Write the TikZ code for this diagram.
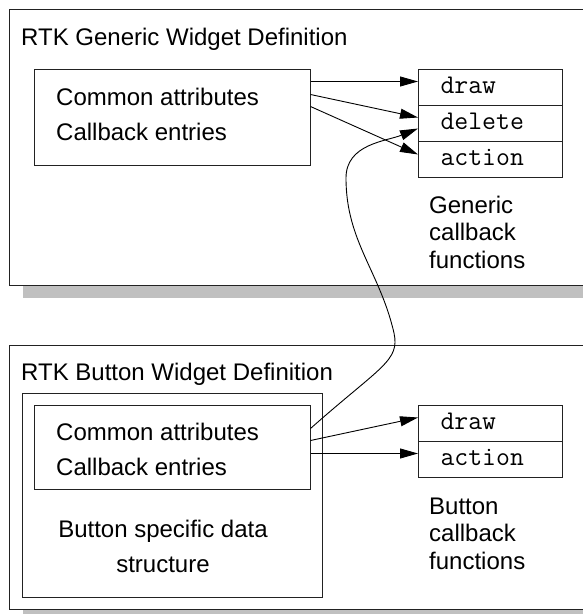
\documentclass[tikz,border=0pt]{standalone}
\usepackage{fontspec}
\setmainfont{Liberation Sans}
\usetikzlibrary{arrows.meta,calc,shadows}
\definecolor{shadowgray}{HTML}{C0C0C0}
\definecolor{ink}{HTML}{222222}
\begin{document}
\begin{tikzpicture}[x=1pt,y=-1pt,
  panel/.style={draw=ink, line width=1.1pt, fill=white, anchor=north west, inner sep=0pt,
    drop shadow={shadow xshift=13pt, shadow yshift=-12pt, fill=shadowgray, opacity=1}},
  box/.style={draw=ink, line width=1pt, anchor=north west, inner sep=0pt},
  cell/.style={draw=ink, line width=1pt, minimum width=144pt, minimum height=36pt,
    text width=100pt, inner xsep=22pt, inner ysep=0pt, align=left,
    text height=12pt, text depth=0pt, anchor=north west,
    font=\ttfamily\fontsize{27}{30}\selectfont},
  label/.style={anchor=base west, inner sep=0pt, font=\fontsize{24}{28}\selectfont},
  caption/.style={label, align=left, font=\fontsize{24}{27.5}\selectfont},
  link/.style={draw=black, line width=0.9pt, -{Triangle[length=18pt,width=10pt]}},
]
\useasboundingbox (0,0) rectangle (583,614);
\clip (0,0) rectangle (583,614);

% ---- generic widget definition ----
\node[panel, minimum width=600pt, minimum height=276pt] (gpanel) at (9,9) {};
\node[label] (gtitle) at (21,45) {RTK Generic Widget Definition};
\node[box, minimum width=276pt, minimum height=96pt] (gin) at (33.5,69) {};
\node[label] (gcommon) at (56,105) {Common attributes};
\node[label] (gentries) at (56,140) {Callback entries};
\node[cell] (gdraw) at (418,69) {draw};
\node[cell] (gdelete) at (418,105) {delete};
\node[cell] (gaction) at (418,141) {action};
% multi-line labels are placed by the baseline of their last line
\node[caption] (gfuncs) at (429,268) {Generic\\callback\\functions};

% ---- button widget definition ----
\node[panel, minimum width=600pt, minimum height=264pt] (bpanel) at (9,345) {};
\node[label] (btitle) at (21,380) {RTK Button Widget Definition};
\node[box, minimum width=300.4pt, minimum height=204pt] (bmid) at (21.6,393) {};
\node[box, minimum width=276pt, minimum height=84pt] (bin) at (33.5,405) {};
\node[label] (bcommon) at (56,440) {Common attributes};
\node[label] (bentries) at (56,475) {Callback entries};
\node[label, anchor=base, align=center, font=\fontsize{24}{35}\selectfont] (bspec) at (163,572) {Button specific data\\structure};
\node[cell] (bdraw) at (418,405) {draw};
\node[cell] (baction) at (418,441) {action};
\node[caption] (bfuncs) at (429,569) {Button\\callback\\functions};

% ---- connectors ----
\draw[link] ([yshift=36pt]gin.east) -- ([yshift=6pt]gdraw.west);
\draw[link] ([yshift=23pt]gin.east) -- ([yshift=6pt]gdelete.west);
\draw[link] ([yshift=11pt]gin.east) -- ([yshift=5pt]gaction.west);
\draw[link] ([yshift=7pt]bin.east) -- ([yshift=6pt]bdraw.west);
\draw[link] ([yshift=-6pt]bin.east) -- ([yshift=6pt]baction.west);

% button entries reach back to the generic delete function
\coordinate (bend1) at (394,333);
\coordinate (bend2) at (346,178);
\draw[link] ([yshift=19pt]bin.east)
  .. controls +(70,-62) and +(6,28) .. (bend1)
  to[out=103,in=-90] (bend2)
  to[out=90,in=202] ([yshift=-5pt]gdelete.west);
\end{tikzpicture}
\end{document}
